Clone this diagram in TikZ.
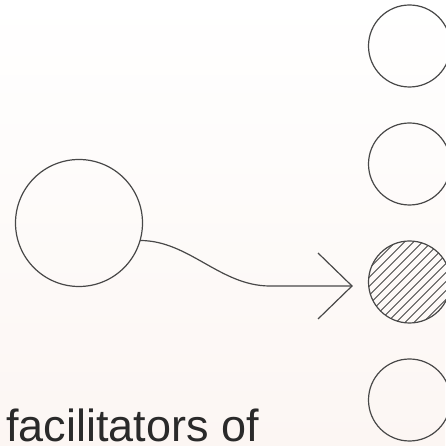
\documentclass[tikz,border=0pt]{standalone}
\usepackage{fontspec}
\setmainfont{Liberation Sans}
\definecolor{ink}{RGB}{72,72,72}
\definecolor{bgbot}{RGB}{252,246,243}
\definecolor{txt}{RGB}{42,42,42}
\begin{document}
\begin{tikzpicture}[
  ringline/.style={draw=ink,line width=1.2pt},
  anchorpt/.style={circle,inner sep=0pt,outer sep=0pt},
  hatchline/.style={draw=ink,line width=1pt},
  flow/.style={draw=ink,line width=1.2pt},
  caption/.style={anchor=base west,inner sep=0pt,text=txt,font=\fontsize{45}{54}\selectfont}]
\useasboundingbox (0pt,0pt) rectangle (445pt,446pt);
\shade[top color=white,bottom color=bgbot] (0pt,0pt) rectangle (445pt,446pt);
\node[anchorpt,minimum size=127pt] (src) at (79pt,223pt) {};
\node[anchorpt,minimum size=82pt] (t1) at (409.5pt,400pt) {};
\node[anchorpt,minimum size=82pt] (t2) at (409.5pt,282pt) {};
\node[anchorpt,minimum size=82pt] (t3) at (409.5pt,164pt) {};
\node[anchorpt,minimum size=82pt] (t4) at (409.5pt,46pt) {};
\begin{scope}
  \clip (t3.center) circle [radius=41pt];
  \foreach \k in {-72,-63,...,72}
    \draw[hatchline] ([xshift=\k pt-50pt,yshift=-50pt]t3.center) -- ([xshift=\k pt+50pt,yshift=50pt]t3.center);
\end{scope}
\draw[ringline] (src.center) circle [radius=63.5pt];
\draw[ringline] (t1.center) circle [radius=41pt];
\draw[ringline] (t2.center) circle [radius=41pt];
\draw[ringline] (t3.center) circle [radius=41pt];
\draw[ringline] (t4.center) circle [radius=41pt];
\node[caption] (lbl) at (6pt,5pt) {facilitators of};
\coordinate (bend) at (270pt,160pt);
\coordinate (tip) at (352pt,160pt);
\coordinate (barbA) at (318pt,193pt);
\coordinate (barbB) at (318pt,127pt);
\draw[flow] (src.-16) .. controls +(49pt,0pt) and +(-50pt,0pt) .. (bend) -- (tip);
\draw[flow,line join=miter] (barbA) -- (tip) -- (barbB);
\end{tikzpicture}
\end{document}
